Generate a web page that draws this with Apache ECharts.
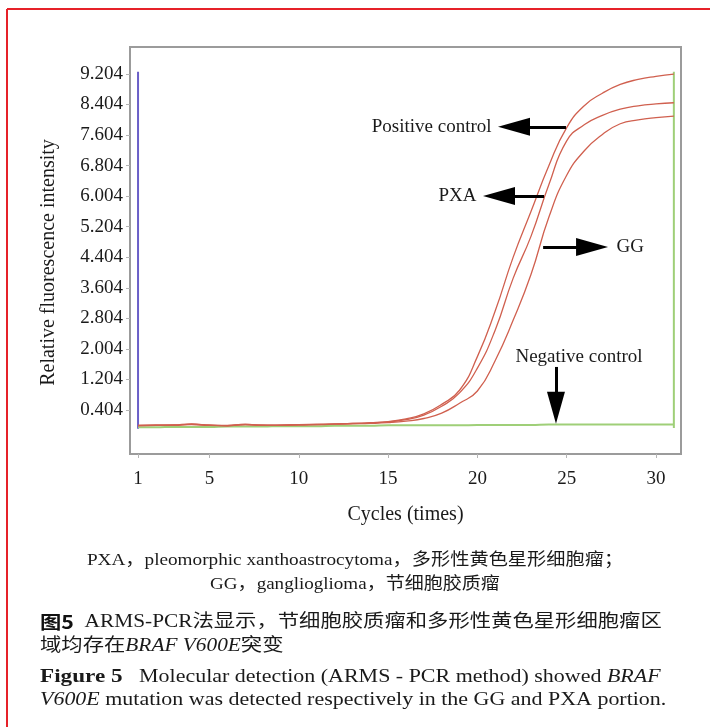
<!DOCTYPE html>
<html>
<head>
<meta charset="utf-8">
<script src="https://cdn.jsdelivr.net/npm/echarts@6/dist/echarts.min.js"></script>
<style>html,body{margin:0;padding:0;background:#fff}#c{width:710px;height:727px}</style>
</head>
<body>
<div id="c"></div>
<script>
// ---- data ----
const cycles = [1,2,3,4,5,6,7,8,9,10,11,12,13,14,15,16,17,18,19,20,21,22,23,24,25,26,27,28,29,30,31];
const posCtrl = [0.00,0.00,0.01,0.04,0.00,-0.01,0.03,0.00,0.00,0.02,0.03,0.04,0.05,0.07,0.10,0.17,0.30,0.55,0.92,1.80,3.00,4.40,5.60,6.80,7.80,8.38,8.70,8.93,9.06,9.14,9.20];
const pxa     = [0.00,0.01,0.00,0.03,0.01,-0.01,0.02,0.01,0.00,0.02,0.02,0.03,0.05,0.06,0.09,0.15,0.27,0.50,0.85,1.50,2.50,3.85,4.95,6.30,7.45,7.88,8.12,8.28,8.37,8.42,8.45];
const gg      = [-0.01,0.00,0.01,0.02,0.00,0.00,0.02,0.00,0.01,0.01,0.02,0.03,0.04,0.05,0.07,0.11,0.18,0.32,0.58,0.90,1.70,2.75,3.95,5.45,6.55,7.20,7.62,7.90,8.00,8.06,8.10];
const negCtrl = [-0.05,-0.05,-0.04,-0.04,-0.04,-0.03,-0.03,-0.03,-0.02,-0.02,-0.02,-0.01,-0.01,-0.01,0.00,0.00,0.00,0.00,0.00,0.01,0.01,0.01,0.01,0.02,0.02,0.02,0.02,0.02,0.02,0.02,0.02];
const blueMarker  = [[1,-0.09],[1,9.26]];
const greenMarker = [[31,-0.07],[31,9.26]];
const yTicks = [0.404,1.204,2.004,2.804,3.604,4.404,5.204,6.004,6.804,7.604,8.404,9.204];
const xTicks = [1,5,10,15,20,25,30];
// annotation arrows (data coordinates): start of shaft -> centre of arrow head
const arrows = [
  {from:[24.96,7.82], to:[22.05,7.82]},
  {from:[23.73,6.01], to:[21.21,6.01]},
  {from:[23.68,4.67], to:[26.42,4.67]},
  {from:[24.40,1.53], to:[24.40,0.46]}
];
const notes = [
  {name:'Positive control', coord:[20.82,7.82], pos:'left'},
  {name:'PXA', coord:[19.98,6.01], pos:'left'},
  {name:'GG', coord:[27.76,4.67], pos:'right'},
  {name:'Negative control', coord:[25.69,1.79], pos:'inside'}
];

const pair = arr => cycles.map((c,i)=>[c,arr[i]]);
const SERIF = '"Liberation Serif","Times New Roman",serif';
const CJK = '"Liberation Serif","Noto Sans CJK SC",serif';
const head = 'path://M0,0 M32,32 M16,0 L25,32 L7,32 Z';
const curveColor = '#d0604f';

const chart = echarts.init(document.getElementById('c'), null, {renderer:'canvas'});
chart.setOption({
  animation:false,
  backgroundColor:'#fff',
  grid:{left:130, top:47, right:29, bottom:273, show:true, borderColor:'#9b9b9b', borderWidth:2, backgroundColor:'#fff'},
  xAxis:{
    type:'value', min:0.55, max:31.4,
    name:'Cycles (times)', nameLocation:'middle', nameGap:51,
    nameTextStyle:{fontFamily:SERIF, fontSize:20, color:'#1a1a1a'},
    axisLine:{show:false, onZero:false},
    splitLine:{show:false},
    axisTick:{show:true, length:4, lineStyle:{color:'#b5b5b5'}, customValues:xTicks},
    axisLabel:{fontFamily:SERIF, fontSize:19, color:'#1a1a1a', margin:16, customValues:xTicks}
  },
  yAxis:{
    type:'value', min:-0.75, max:9.91,
    name:'Relative fluorescence intensity', nameLocation:'middle', nameGap:71,
    nameTextStyle:{fontFamily:SERIF, fontSize:20, color:'#1a1a1a', padding:[0,24,0,0]},
    axisLine:{show:false, onZero:false},
    splitLine:{show:false},
    axisTick:{show:true, length:4, lineStyle:{color:'#b5b5b5'}, customValues:yTicks},
    axisLabel:{fontFamily:SERIF, fontSize:19, color:'#1a1a1a', margin:7, customValues:yTicks,
      formatter:v=>Number(v).toFixed(3)}
  },
  series:[
    {type:'line', name:'marker1', data:blueMarker, symbol:'none', lineStyle:{color:'#6a5fc8', width:2}, silent:true},
    {type:'line', name:'marker2', data:greenMarker, symbol:'none', lineStyle:{color:'#9fcf78', width:2}, silent:true},
    {type:'line', name:'Negative control', data:pair(negCtrl), symbol:'none', smooth:true, lineStyle:{color:'#9fcf78', width:2}},
    {type:'line', name:'GG', data:pair(gg), symbol:'none', smooth:true, lineStyle:{color:curveColor, width:1.3}},
    {type:'line', name:'PXA', data:pair(pxa), symbol:'none', smooth:true, lineStyle:{color:curveColor, width:1.3}},
    {type:'line', name:'Positive control', data:pair(posCtrl), symbol:'none', smooth:true, lineStyle:{color:curveColor, width:1.3},
      markLine:{
        silent:true, animation:false, symbol:['none', head], symbolSize:32,
        label:{show:false}, emphasis:{disabled:true},
        lineStyle:{color:'#000', width:3, type:'solid'},
        data: arrows.map(a=>[{coord:a.from},{coord:a.to}])
      },
      markPoint:{
        silent:true, animation:false, symbol:'circle', symbolSize:1, itemStyle:{color:'rgba(0,0,0,0)'},
        data: notes.map(n=>({name:n.name, coord:n.coord,
          label:{show:true, position:n.pos, distance:0, formatter:'{b}', fontFamily:SERIF, fontSize:19, color:'#1a1a1a'}}))
      }
    }
  ],
  graphic:[
    {type:'line', shape:{x1:7,y1:9,x2:710,y2:9}, style:{stroke:'#e62129', lineWidth:2}, silent:true},
    {type:'line', shape:{x1:7,y1:9,x2:7,y2:727}, style:{stroke:'#e62129', lineWidth:2}, silent:true},
    {type:'text', x:355, y:561, scaleX:1.13, style:{text:'PXA，pleomorphic xanthoastrocytoma，多形性黄色星形细胞瘤；', font:'17px '+CJK, fill:'#1a1a1a', align:'center', verticalAlign:'middle'}},
    {type:'text', x:355, y:585, scaleX:1.12, style:{text:'GG，ganglioglioma，节细胞胶质瘤', font:'17px '+CJK, fill:'#1a1a1a', align:'center', verticalAlign:'middle'}},
    {type:'text', x:40, y:622, scaleX:1.185, style:{text:'{b|图5}  ARMS-PCR法显示，节细胞胶质瘤和多形性黄色星形细胞瘤区', font:'18px '+CJK, fill:'#1a1a1a', align:'left', verticalAlign:'middle',
      rich:{b:{fontFamily:'"Noto Sans CJK SC",sans-serif', fontWeight:'bold', fontSize:18, fill:'#111'}}}},
    {type:'text', x:40, y:646, scaleX:1.185, style:{text:'域均存在{i|BRAF V600E}突变', font:'18px '+CJK, fill:'#1a1a1a', align:'left', verticalAlign:'middle',
      rich:{i:{fontFamily:SERIF, fontStyle:'italic', fontSize:18}}}},
    {type:'text', x:40, y:677, scaleX:1.22, style:{text:'{b|Figure 5}   Molecular detection (ARMS - PCR method) showed {i|BRAF}', font:'18px '+SERIF, fill:'#1a1a1a', align:'left', verticalAlign:'middle',
      rich:{b:{fontFamily:SERIF, fontWeight:'bold', fontSize:19}, i:{fontFamily:SERIF, fontStyle:'italic', fontSize:18}}}},
    {type:'text', x:40, y:700, scaleX:1.22, style:{text:'{i|V600E} mutation was detected respectively in the GG and PXA portion.', font:'18px '+SERIF, fill:'#1a1a1a', align:'left', verticalAlign:'middle',
      rich:{i:{fontFamily:SERIF, fontStyle:'italic', fontSize:18}}}}
  ]
});
</script>
</body>
</html>
